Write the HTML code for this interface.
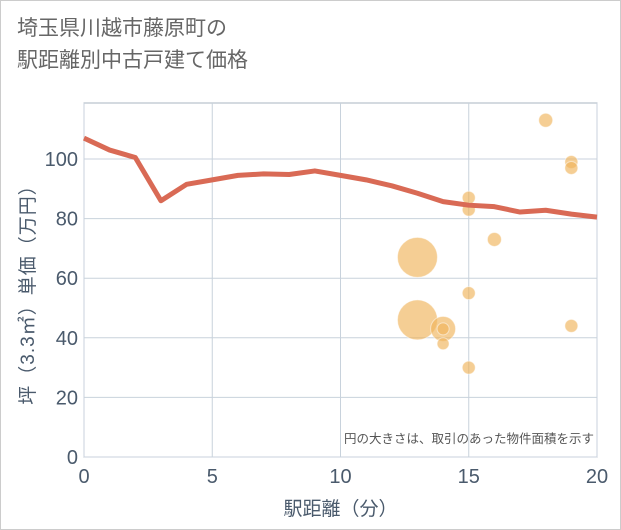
<!DOCTYPE html>
<html><head><meta charset="utf-8"><style>
body{margin:0;width:621px;height:530px;background:#fff;font-family:"Liberation Sans","Noto Sans CJK JP",sans-serif;overflow:hidden}
#frame{position:absolute;left:0;top:0;width:619px;height:528px;border:1px solid #ccc}
#title{position:absolute;left:17px;top:13px;font-size:21px;line-height:32px;color:#666}
</style></head><body>
<div id="frame"></div>
<div id="title">埼玉県川越市藤原町の<br>駅距離別中古戸建て価格</div>
<svg id="chart" width="621" height="530" style="position:absolute;left:0;top:0"></svg>
<script>
const xTicks=[0,5,10,15,20];
const yTicks=[0,20,40,60,80,100];
const lineX=[0,1,2,3,4,5,6,7,8,9,10,11,12,13,14,15,16,17,18,19,20];
const lineY=[107,103,100.5,86,91.5,93,94.5,95,94.8,96,94.5,93,91,88.5,85.7,84.5,84,82.2,82.8,81.5,80.5];
const bubX=[13,13,14,14,14,15,15,15,15,16,18,19,19,19];
const bubY=[67,46,43,43,38,87,83,55,30,73,113,99,97,44];
const bubR=[20,20,12.5,6,6,6.5,6.5,6.5,6.5,7,7,6.5,6.5,6.5];
const L=84,R=597,T=103,B=457;
const sx=v=>L+(R-L)*v/20;
const sy=v=>B-(B-159)*v/100;
const svg=document.getElementById('chart');
const NS='http://www.w3.org/2000/svg';
function mk(t,a){const e=document.createElementNS(NS,t);for(const k in a)e.setAttribute(k,a[k]);svg.appendChild(e);return e;}
const bg=mk('rect',{x:L,y:T,width:R-L,height:B-T,fill:'#fff',stroke:'#aab4c0'});


xTicks.forEach(v=>{
 const g=mk('line',{x1:sx(v),x2:sx(v),y1:T,y2:B,stroke:'#c8d2dc'});
 
 
 const t=mk('text',{x:sx(v),y:B+26,'text-anchor':'middle','font-size':20,fill:'#4a5a6c'});
 t.textContent=v;
 
 
});
yTicks.forEach(v=>{
 const g=mk('line',{x1:L,x2:R,y1:sy(v),y2:sy(v),stroke:'#c8d2dc'});
 
 
 const t=mk('text',{x:L-6,y:sy(v)+7,'text-anchor':'end','font-size':20,fill:'#4a5a6c'});
 t.textContent=v;
 
 
});
bubX.forEach((v,i)=>{
 const c=mk('circle',{cx:sx(v),cy:sy(bubY[i]),r:bubR[i],fill:'#f0b45a','fill-opacity':0.65,stroke:'#fff','stroke-opacity':0.5});
 
 
});
const pl=mk('polyline',{points:lineX.map((v,i)=>sx(v)+','+sy(lineY[i])).join(' '),fill:'none',stroke:'#d96a55','stroke-width':5,'stroke-linejoin':'round'});


const note=mk('text',{x:R-3,y:443,'text-anchor':'end','font-size':12.5,fill:'#555'});
note.textContent='円の大きさは、取引のあった物件面積を示す';


const xt=mk('text',{x:sx(10),y:515,'text-anchor':'middle','font-size':19,fill:'#4a5a6c'});
xt.textContent='駅距離（分）';


const yt=mk('text',{x:0,y:0,'text-anchor':'middle','font-size':19,fill:'#4a5a6c','letter-spacing':1,transform:'translate(34,'+((T+B)/2+10)+') rotate(-90)'});
yt.textContent='坪（3.3㎡）単価（万円）';


</script>
</body></html>
